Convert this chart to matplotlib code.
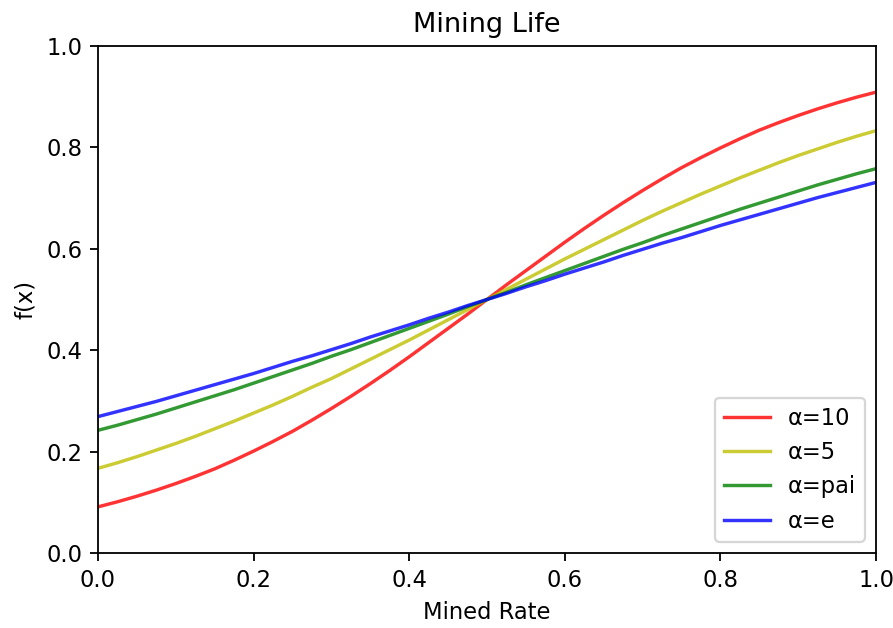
import matplotlib
matplotlib.use("Agg")
import matplotlib.pyplot as plt

# values at x steps of 0.025
x = [i * 0.025 for i in range(41)]

y_a10 = [0.091, 0.101, 0.112, 0.124, 0.137, 0.151, 0.166, 0.183, 0.201, 0.220,
         0.240, 0.262, 0.285, 0.309, 0.334, 0.360, 0.387, 0.415, 0.443, 0.471,
         0.500, 0.529, 0.557, 0.585, 0.613, 0.640, 0.666, 0.691, 0.715, 0.738,
         0.760, 0.780, 0.799, 0.817, 0.834, 0.849, 0.863, 0.876, 0.888, 0.899,
         0.909]
y_a5 = [0.167, 0.178, 0.190, 0.203, 0.216, 0.230, 0.245, 0.260, 0.276, 0.292,
        0.309, 0.327, 0.344, 0.363, 0.382, 0.401, 0.420, 0.440, 0.460, 0.480,
        0.500, 0.520, 0.540, 0.560, 0.580, 0.599, 0.618, 0.637, 0.656, 0.674,
        0.691, 0.708, 0.724, 0.740, 0.755, 0.770, 0.784, 0.797, 0.810, 0.822,
        0.833]
y_pai = [0.242, 0.252, 0.263, 0.274, 0.286, 0.298, 0.310, 0.322, 0.335, 0.348,
         0.361, 0.374, 0.388, 0.401, 0.415, 0.429, 0.443, 0.457, 0.471, 0.486,
         0.500, 0.514, 0.529, 0.543, 0.557, 0.571, 0.585, 0.599, 0.612, 0.626,
         0.639, 0.652, 0.665, 0.678, 0.690, 0.702, 0.714, 0.726, 0.737, 0.748,
         0.758]
y_e = [0.269, 0.279, 0.289, 0.299, 0.310, 0.321, 0.332, 0.343, 0.354, 0.366,
       0.378, 0.389, 0.401, 0.413, 0.426, 0.438, 0.450, 0.463, 0.475, 0.488,
       0.500, 0.512, 0.525, 0.537, 0.550, 0.562, 0.574, 0.587, 0.599, 0.611,
       0.622, 0.634, 0.646, 0.657, 0.668, 0.679, 0.690, 0.701, 0.711, 0.721,
       0.731]

series = [("α=10", y_a10, "r"), ("α=5", y_a5, "y"),
          ("α=pai", y_pai, "g"), ("α=e", y_e, "b")]

dpi = 163
fig = plt.figure(figsize=(893 / dpi, 628 / dpi), dpi=dpi)
ax = fig.add_axes([0.1097, 0.1194, 0.8714, 0.8074])

for label, ys, c in series:
    ax.plot(x, ys, color=c, alpha=0.8, linewidth=1.5, label=label)

ax.set_xlim(0, 1)
ax.set_ylim(0, 1)
ax.set_title("Mining Life")
ax.set_xlabel("Mined Rate")
ax.set_ylabel("f(x)")
ax.legend(loc="lower right")

fig.savefig("out.png", dpi=dpi)
